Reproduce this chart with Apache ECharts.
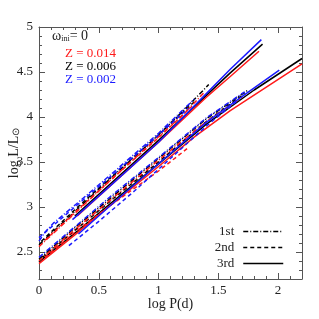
<!DOCTYPE html>
<html><head><meta charset="utf-8">
<script src="https://cdn.jsdelivr.net/npm/echarts@6/dist/echarts.min.js"></script>
<style>html,body{margin:0;padding:0;background:#fff}#c{width:319px;height:319px}</style>
</head><body><div id="c"></div>
<script>
const xTickLabels = ['0','0.5','1','1.5','2'];
const yTickLabels = ['2.5','3','3.5','4','4.5','5'];
const modeNames = ['1st','2nd','3rd'];
const zLabels = ['Z = 0.014','Z = 0.006','Z = 0.002'];
const zColors = ['#ff1a1a','#000000','#1a1aff'];

// upper sequence, Z = 0.014 / 0.006 / 0.002
const up1st_z014 = [[0,2.56],[0.3,2.93],[0.6,3.3],[1.0,3.78],[1.2,4.02],[1.38,4.27]];
const up1st_z006 = [[0,2.58],[0.3,2.95],[0.6,3.32],[1.0,3.8],[1.2,4.06],[1.42,4.36]];
const up1st_z002 = [[0,2.62],[0.05,2.72],[0.12,2.82],[0.3,3.02],[0.6,3.36],[1.0,3.82],[1.3,4.2]];
const up2nd_z014 = [[0.05,2.63],[0.3,2.94],[0.6,3.3],[1.0,3.77],[1.28,4.12]];
const up2nd_z006 = [[0.02,2.62],[0.3,2.97],[0.6,3.33],[1.0,3.8],[1.3,4.17]];
const up2nd_z002 = [[0,2.66],[0.3,3.0],[0.6,3.34],[1.0,3.8],[1.25,4.1]];
const up3rd_z014 = [[0.32,2.9],[0.6,3.24],[1.0,3.72],[1.4,4.22],[1.6,4.45],[1.84,4.73]];
const up3rd_z006 = [[0.3,2.9],[0.6,3.26],[1.0,3.74],[1.4,4.24],[1.6,4.49],[1.87,4.81]];
const up3rd_z002 = [[0.28,2.86],[0.6,3.24],[1.0,3.72],[1.4,4.26],[1.6,4.53],[1.86,4.86]];
// lower sequence
const lo1st_z014 = [[0,2.4],[0.3,2.75],[0.6,3.08],[1.0,3.52],[1.4,3.95],[1.7,4.22]];
const lo1st_z006 = [[0,2.42],[0.3,2.77],[0.6,3.1],[1.0,3.54],[1.4,3.98],[1.75,4.3]];
const lo1st_z002 = [[0,2.44],[0.3,2.78],[0.6,3.12],[1.0,3.55],[1.4,3.99],[1.72,4.28]];
const lo2nd_z014 = [[0.05,2.44],[0.3,2.72],[0.6,3.02],[1.0,3.4],[1.25,3.66]];
const lo2nd_z006 = [[0.03,2.44],[0.3,2.74],[0.6,3.07],[1.0,3.5],[1.4,3.95],[1.72,4.26]];
const lo2nd_z002 = [[0.25,2.57],[0.5,2.84],[0.8,3.18],[1.0,3.42],[1.4,3.9],[1.65,4.17]];
const lo3rd_z014 = [[0,2.37],[0.3,2.69],[0.6,3.02],[1.0,3.45],[1.3,3.78],[1.6,4.07],[2.2,4.59]];
const lo3rd_z006 = [[0,2.39],[0.3,2.71],[0.6,3.04],[1.0,3.48],[1.4,3.92],[1.8,4.3],[2.2,4.65]];
const lo3rd_z002 = [[0.33,2.7],[0.6,3.02],[1.0,3.48],[1.4,3.94],[1.7,4.23],[2.01,4.52]];

const groups = [
  [up1st_z014, up1st_z006, up1st_z002],
  [up2nd_z014, up2nd_z006, up2nd_z002],
  [up3rd_z014, up3rd_z006, up3rd_z002],
  [lo1st_z014, lo1st_z006, lo1st_z002],
  [lo2nd_z014, lo2nd_z006, lo2nd_z002],
  [lo3rd_z014, lo3rd_z006, lo3rd_z002]
];
const dashes = [[5,2,1,2],[4,3],'solid'];

const series = [];
// black first per mode so the legend picks up a black icon
[1,0,2].forEach(zi => {
  groups.forEach((g, gi) => {
    const mi = gi % 3;
    series.push({
      type: 'line',
      name: zi === 1 ? modeNames[mi] : zLabels[zi] + ' ' + modeNames[mi] + ' ' + gi,
      data: g[zi],
      xAxisIndex: 0, yAxisIndex: 0,
      symbol: 'none', smooth: false, silent: true,
      lineStyle: { color: zColors[zi], width: 1.5, type: dashes[mi] },
      itemStyle: { color: zColors[zi] },
      z: zi === 2 ? 4 : (zi === 0 ? 3 : 2)
    });
  });
});

const FONT = 'Liberation Serif';
const axCol = '#555';
function xAx(pos, major, labels) {
  return {
    type: 'value', min: 0, max: 2.2, interval: major ? 0.5 : 0.1, position: pos,
    axisLine: { show: !major, onZero: false, lineStyle: { color: axCol, width: 1 } },
    axisTick: { show: true, inside: true, length: major ? 6 : 3, lineStyle: { color: axCol } },
    axisLabel: { show: labels, margin: 5, color: '#222', fontFamily: FONT, fontSize: 13,
      formatter: v => { const s = String(+v.toFixed(2)); return xTickLabels.includes(s) ? s : ''; } },
    splitLine: { show: false },
    name: labels ? 'log P(d)' : '', nameLocation: 'middle', nameGap: 18, nameMoveOverlap: false,
    nameTextStyle: { fontFamily: FONT, fontSize: 14, color: '#222' }
  };
}
function yAx(pos, major, labels) {
  const o = {
    type: 'value', min: 2.2, max: 5, position: pos, offset: 0,
    axisLine: { show: !major, onZero: false, lineStyle: { color: axCol, width: 1 } },
    axisTick: { show: true, inside: true, length: major ? 6 : 3, lineStyle: { color: axCol } },
    axisLabel: { show: labels, margin: 6, color: '#222', fontFamily: FONT, fontSize: 13,
      formatter: v => { const s = String(+v.toFixed(2)); return yTickLabels.includes(s) ? s : ''; } },
    splitLine: { show: false },
    name: labels ? '{a|log L/L}{b|⊙}' : '', nameLocation: 'middle', nameGap: 18, nameMoveOverlap: false,
    nameTextStyle: { fontFamily: FONT, fontSize: 14, color: '#222',
      rich: { a: { fontFamily: FONT, fontSize: 14, color: '#222', lineHeight: 16, verticalAlign: 'bottom' },
              b: { fontFamily: FONT, fontSize: 10, color: '#222', lineHeight: 8, verticalAlign: 'bottom' } } }
  };
  if (major) o.splitNumber = 6; else o.interval = 0.1;
  return o;
}

const chart = echarts.init(document.getElementById('c'), null, { renderer: 'canvas' });
chart.setOption({
  animation: false,
  backgroundColor: '#fff',
  grid: { left: 39, right: 17, top: 27, bottom: 40, containLabel: false, outerBoundsMode: 'none' },
  xAxis: [xAx('bottom', false, false), xAx('bottom', true, true), xAx('top', false, false), xAx('top', true, false)],
  yAxis: [yAx('left', false, false), yAx('left', true, true), yAx('right', false, false), yAx('right', true, false)],
  legend: {
    data: modeNames, orient: 'vertical', right: 30, top: 220, align: 'right',
    itemWidth: 40, itemHeight: 10, itemGap: 3, selectedMode: false,
    textStyle: { fontFamily: FONT, fontSize: 13, color: '#222', padding: [0, 4, 0, 0] },
    lineStyle: { color: '#000', width: 1.5 },
    itemStyle: { opacity: 0 }
  },
  graphic: [
    { type: 'text', left: 52, top: 29, silent: true,
      style: { text: '{w|ω}{s|ini}{w|= 0}', fill: '#222',
        rich: { w: { fontFamily: FONT, fontSize: 14, fill: '#222', lineHeight: 15, verticalAlign: 'bottom' },
                s: { fontFamily: FONT, fontSize: 8, fill: '#222', lineHeight: 6, verticalAlign: 'bottom' } } } },
    { type: 'text', left: 65, top: 47, silent: true, style: { text: zLabels[0], fill: zColors[0], font: '13px "Liberation Serif"' } },
    { type: 'text', left: 65, top: 60, silent: true, style: { text: zLabels[1], fill: zColors[1], font: '13px "Liberation Serif"' } },
    { type: 'text', left: 65, top: 73, silent: true, style: { text: zLabels[2], fill: zColors[2], font: '13px "Liberation Serif"' } }
  ],
  series: series
});
</script></body></html>
